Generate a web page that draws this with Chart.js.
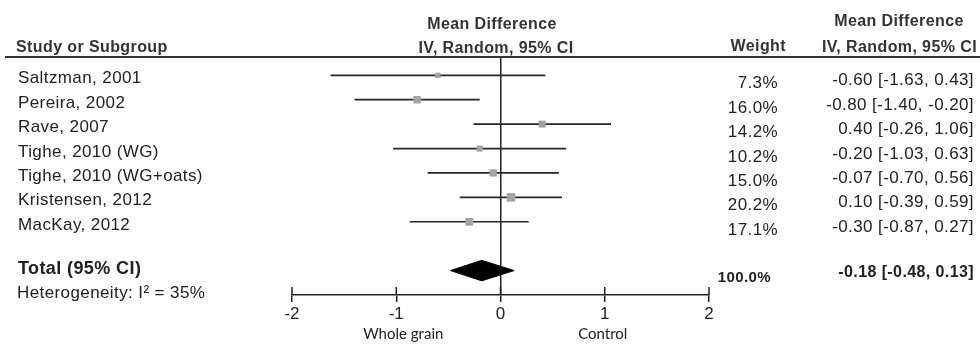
<!DOCTYPE html>
<html lang="en">
<head>
  <meta charset="UTF-8">
  <title>Forest plot - Mean Difference</title>
  <script src="https://cdn.jsdelivr.net/npm/chart.js"></script>
  <style>
    * {
      margin: 0;
      padding: 0;
      box-sizing: border-box;
    }

    body {
      width: 980px;
      height: 344px;
      overflow: hidden;
      background: #fff;
      font-family: "Liberation Sans", Arial, sans-serif;
      color: #222;
    }

    .wrap {
      position: relative;
      width: 980px;
      height: 344px;
    }

    .wrap canvas {
      position: absolute;
      left: 0;
      top: 0;
    }

    /* table text around the plot */
    .txt {
      position: absolute;
      white-space: nowrap;
      font-size: 17px;
      line-height: 20px;
      letter-spacing: 0.4px;
    }

    .hd {
      font-weight: bold;
      font-size: 16px;
      color: #333;
    }

    .total {
      font-weight: bold;
      font-size: 18px;
    }

    .tw {
      font-weight: bold;
      font-size: 15px;
    }

    .tci {
      font-weight: bold;
      font-size: 16px;
    }

    .side {
      font-family: Lato, "Open Sans", sans-serif;
      font-size: 15px;
      letter-spacing: 0;
    }

    .rule {
      position: absolute;
      left: 5px;
      right: 0;
      top: 56px;
      height: 2px;
      background: #333;
    }
  </style>
</head>
<body>
  <div class="wrap" id="wrap">
    <canvas id="forest" width="980" height="344"></canvas>
    <div class="rule"></div>
    <div class="txt hd" style="left:16px; top:37px;">Study or Subgroup</div>
    <div class="txt hd" style="left:492px; top:14px; transform:translateX(-50%);">Mean Difference</div>
    <div class="txt hd" style="left:496px; top:38px; transform:translateX(-50%);">IV, Random, 95% CI</div>
    <div class="txt hd" style="right:194px; top:36px;">Weight</div>
    <div class="txt hd" style="left:899px; top:11px; transform:translateX(-50%);">Mean Difference</div>
    <div class="txt hd" style="right:3px; top:37px;">IV, Random, 95% CI</div>
  </div>

  <script>
    // data
    const studies = ['Saltzman, 2001', 'Pereira, 2002', 'Rave, 2007', 'Tighe, 2010 (WG)',
                     'Tighe, 2010 (WG+oats)', 'Kristensen, 2012', 'MacKay, 2012'];
    const meanDiff = [-0.60, -0.80, 0.40, -0.20, -0.07, 0.10, -0.30];
    const ciLow = [-1.63, -1.40, -0.26, -1.03, -0.70, -0.39, -0.87];
    const ciHigh = [0.43, -0.20, 1.06, 0.63, 0.56, 0.59, 0.27];
    const weights = [7.3, 16.0, 14.2, 10.2, 15.0, 20.2, 17.1];
    const rows = [1, 2, 3, 4, 5, 6, 7];

    const totalMean = -0.18;
    const totalLow = -0.48;
    const totalHigh = 0.13;
    const totalWeight = 100.0;
    const totalRow = 9;

    const xTicks = [-2, -1, 0, 1, 2];

    const ink = '#222';
    const fmt = v => v.toFixed(2);

    // CI whiskers, one small line dataset per study
    const ciSets = rows.map((r, i) => ({
      data: [{ x: ciLow[i], y: r }, { x: ciHigh[i], y: r }],
      showLine: true,
      borderColor: '#262626',
      borderWidth: 1.7,
      pointRadius: 0
    }));

    const half = 0.42; // diamond half height in row units

    // upward half of the tick marks (library draws the downward half)
    const upTicks = {
      id: 'upTicks',
      afterDraw(chart) {
        const xs = chart.scales.x;
        const ctx = chart.ctx;
        ctx.save();
        ctx.strokeStyle = ink;
        ctx.lineWidth = 1.5;
        xs.ticks.forEach(t => {
          const px = xs.getPixelForValue(t.value);
          ctx.beginPath();
          ctx.moveTo(px, xs.top - 8);
          ctx.lineTo(px, xs.top);
          ctx.stroke();
        });
        ctx.restore();
      }
    };

    const chart = new Chart(document.getElementById('forest'), {
      type: 'scatter',
      data: {
        datasets: [
          {
            // study squares, size by weight
            data: rows.map((r, i) => ({ x: meanDiff[i], y: r })),
            pointStyle: 'rect',
            pointRadius: c => (3.5 + weights[c.dataIndex] * 0.25) / Math.SQRT2,
            backgroundColor: '#a3a3a3',
            borderWidth: 0
          },
          {
            // pooled diamond, upper half filled down to lower half
            data: [{ x: totalLow, y: totalRow }, { x: totalMean, y: totalRow - half }, { x: totalHigh, y: totalRow }],
            showLine: true,
            fill: '+1',
            borderColor: '#000',
            backgroundColor: '#000',
            borderWidth: 1,
            pointRadius: 0
          },
          {
            data: [{ x: totalLow, y: totalRow }, { x: totalMean, y: totalRow + half }, { x: totalHigh, y: totalRow }],
            showLine: true,
            borderColor: '#000',
            borderWidth: 1,
            pointRadius: 0
          },
          ...ciSets
        ]
      },
      options: {
        responsive: false,
        animation: false,
        events: [],
        layout: {
          padding: { left: 292, right: 271, top: 57, bottom: 0 }
        },
        plugins: {
          legend: { display: false },
          tooltip: { enabled: false }
        },
        scales: {
          x: {
            type: 'linear',
            min: -2,
            max: 2,
            afterBuildTicks: s => { s.ticks = xTicks.map(v => ({ value: v })); },
            afterFit: s => { s.height = 49; },
            grid: {
              color: c => (c.tick && c.tick.value === 0) ? ink : 'rgba(0,0,0,0)',
              lineWidth: 1.5,
              tickColor: ink,
              tickWidth: 1.5,
              tickLength: 7
            },
            border: { color: ink, width: 1.5 },
            ticks: {
              color: ink,
              padding: 2,
              maxRotation: 0,
              font: { family: '"Liberation Sans", Arial, sans-serif', size: 17 }
            }
          },
          y: {
            type: 'linear',
            min: 0.25,
            max: 10,
            reverse: true,
            display: false
          }
        }
      },
      plugins: [upTicks]
    });

    // table text placed on the chart's own row scale
    const wrap = document.getElementById('wrap');
    const yScale = chart.scales.y;
    const xScale = chart.scales.x;

    function addText(text, cy, place, cls) {
      const d = document.createElement('div');
      d.className = 'txt ' + (cls || '');
      d.textContent = text;
      d.style.top = (cy - 10) + 'px';
      if (place.left != null) d.style.left = place.left + 'px';
      if (place.right != null) d.style.right = (980 - place.right) + 'px';
      if (place.center != null) {
        d.style.left = place.center + 'px';
        d.style.transform = 'translateX(-50%)';
      }
      wrap.appendChild(d);
    }

    rows.forEach((r, i) => {
      const py = yScale.getPixelForValue(r);
      addText(studies[i], py + 3, { left: 18 });
      addText(weights[i].toFixed(1) + '%', py + 8, { right: 778 });
      addText(fmt(meanDiff[i]) + ' [' + fmt(ciLow[i]) + ', ' + fmt(ciHigh[i]) + ']', py + 5, { right: 974 });
    });

    const ty = yScale.getPixelForValue(totalRow);
    addText('Total (95% CI)', ty - 3, { left: 18 }, 'total');
    addText(totalWeight.toFixed(1) + '%', ty + 6, { right: 771 }, 'tw');
    addText(fmt(totalMean) + ' [' + fmt(totalLow) + ', ' + fmt(totalHigh) + ']', ty + 1, { right: 974 }, 'tci');
    addText('Heterogeneity: I\u00b2 = 35%', 293, { left: 17 });

    addText('Whole grain', 333, { center: xScale.getPixelForValue(-1) + 7 }, 'side');
    addText('Control', 333, { center: xScale.getPixelForValue(1) - 2 }, 'side');
  </script>
</body>
</html>
